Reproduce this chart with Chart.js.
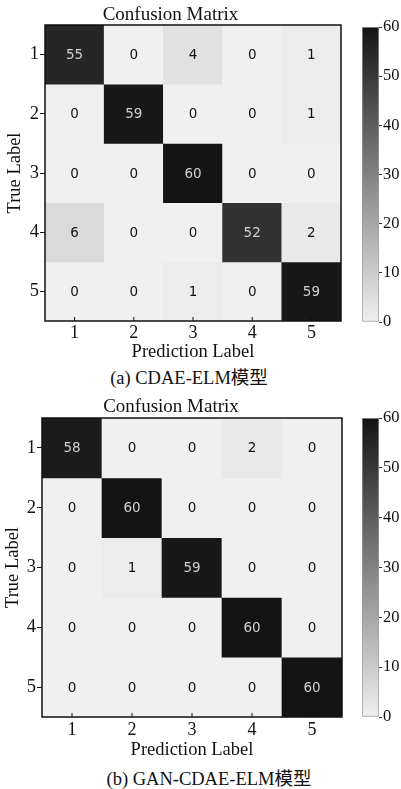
<!DOCTYPE html>
<html>
<head>
<meta charset="utf-8">
<script src="https://cdn.jsdelivr.net/npm/chart.js@4.4.0/dist/chart.umd.min.js"></script>
<style>
  body { margin: 0; background: #fff; width: 401px; height: 789px; position: relative; overflow: hidden; }
  canvas { position: absolute; }
  .cap { position: absolute; font: 18.5px "Liberation Serif", "Noto Sans CJK SC", serif; color: #111; text-align: center; white-space: nowrap; }
</style>
</head>
<body>
<canvas id="matA" width="342" height="363" style="left:0;top:0"></canvas>
<canvas id="barA" width="46" height="319" style="left:355px;top:15px"></canvas>
<div class="cap" style="left:0;width:378px;top:363px">(a) CDAE-ELM模型</div>

<canvas id="matB" width="343" height="371" style="left:0;top:390px"></canvas>
<canvas id="barB" width="46" height="323" style="left:355px;top:406px"></canvas>
<div class="cap" style="left:18px;width:382px;top:764px">(b) GAN-CDAE-ELM模型</div>

<script>
// class labels shared by both axes
const classLabels = ['1', '2', '3', '4', '5'];

// confusion matrix, CDAE-ELM (rows = true label, columns = predicted label)
const cdaeRow1 = [55, 0, 4, 0, 1];
const cdaeRow2 = [0, 59, 0, 0, 1];
const cdaeRow3 = [0, 0, 60, 0, 0];
const cdaeRow4 = [6, 0, 0, 52, 2];
const cdaeRow5 = [0, 0, 1, 0, 59];

// confusion matrix, GAN-CDAE-ELM
const ganRow1 = [58, 0, 0, 2, 0];
const ganRow2 = [0, 60, 0, 0, 0];
const ganRow3 = [0, 1, 59, 0, 0];
const ganRow4 = [0, 0, 0, 60, 0];
const ganRow5 = [0, 0, 0, 0, 60];

// colour scale
const colorMin = 0;
const colorMax = 60;
const colorbarTicks = [0, 10, 20, 30, 40, 50, 60];

const SERIF = '"Liberation Serif", "Times New Roman", serif';
const INK = '#111';

function grey(v) {
  const t = (v - colorMin) / (colorMax - colorMin);
  const c = Math.round(240 + (20 - 240) * t);
  return `rgb(${c},${c},${c})`;
}

// writes the count in every cell, frames the plot and adds inward x ticks
const cellText = {
  id: 'cellText',
  afterDatasetsDraw(chart) {
    const { ctx, chartArea: a } = chart;
    ctx.save();
    ctx.font = '13.5px "DejaVu Sans", sans-serif';
    ctx.textAlign = 'center';
    ctx.textBaseline = 'middle';
    chart.data.datasets.forEach((ds, di) => {
      chart.getDatasetMeta(di).data.forEach((bar, i) => {
        const v = ds.counts[i];
        const { x, y, base } = bar.getProps(['x', 'y', 'base'], true);
        ctx.fillStyle = v > colorMax / 2 ? '#d0d0d0' : INK;
        ctx.fillText(String(v), x, (y + base) / 2 + 1);
      });
    });
    ctx.strokeStyle = INK;
    ctx.lineWidth = 1;
    const xs = chart.scales.x;
    xs.ticks.forEach((t, i) => {
      const px = xs.getPixelForTick(i);
      ctx.beginPath();
      ctx.moveTo(px, a.bottom);
      ctx.lineTo(px, a.bottom - 4);
      ctx.stroke();
    });
    ctx.lineWidth = 1.5;
    ctx.strokeRect(a.left, a.top, a.width, a.height);
    ctx.restore();
  }
};

function matrixChart(id, rows, lay) {
  const datasets = rows.map((row, r) => ({
    label: classLabels[r],
    counts: row,
    // each true-label row occupies a unit band around its index on the y scale
    data: row.map(() => [r + 0.5, r + 1.5]),
    backgroundColor: row.map(grey),
    borderWidth: 0,
    grouped: false,
    barPercentage: 1,
    categoryPercentage: 1
  }));
  return new Chart(document.getElementById(id), {
    type: 'bar',
    data: { labels: classLabels, datasets },
    plugins: [cellText],
    options: {
      responsive: false,
      animation: false,
      layout: { padding: { left: 0, right: 1, top: 0, bottom: 0 } },
      plugins: {
        legend: { display: false },
        tooltip: { enabled: false },
        title: {
          display: true,
          text: 'Confusion Matrix',
          color: INK,
          font: { family: SERIF, size: 19, weight: 'normal', lineHeight: 1.2 },
          padding: { top: lay.titleTop, bottom: lay.titleBottom }
        }
      },
      scales: {
        x: {
          type: 'category',
          offset: true,
          grid: { display: false, drawTicks: false },
          border: { display: false },
          ticks: { color: INK, padding: lay.xTickPad, font: { family: SERIF, size: 18, lineHeight: 1.2 } },
          title: {
            display: true, text: 'Prediction Label', color: INK,
            font: { family: SERIF, size: 18.5, lineHeight: 1.2 },
            padding: { top: 0, bottom: lay.xTitleBottom }
          },
          afterFit: s => { s.height = lay.xHeight; }
        },
        y: {
          type: 'linear',
          min: 0.5,
          max: classLabels.length + 0.5,
          reverse: true,
          afterBuildTicks: s => { s.ticks = classLabels.map((l, i) => ({ value: i + 1 })); },
          grid: { display: true, drawOnChartArea: false, drawTicks: true, tickLength: 5, color: INK },
          border: { display: false },
          ticks: {
            color: INK, padding: 1,
            font: { family: SERIF, size: 18.5, lineHeight: 1.2 },
            callback: (v) => classLabels[v - 1]
          },
          title: {
            display: true, text: 'True Label', color: INK,
            font: { family: SERIF, size: 18.5, lineHeight: 1.2 },
            padding: { top: lay.yTitleLeft, bottom: 0 }
          },
          afterFit: s => { s.width = lay.yWidth; }
        }
      }
    }
  });
}

function colorbarChart(id) {
  return new Chart(document.getElementById(id), {
    type: 'bar',
    data: {
      labels: [''],
      datasets: [{
        data: [[colorMin, colorMax]],
        backgroundColor: (c) => {
          const a = c.chart.chartArea;
          if (!a) return grey(colorMin);
          const g = c.chart.ctx.createLinearGradient(0, a.bottom, 0, a.top);
          g.addColorStop(0, grey(colorMin));
          g.addColorStop(1, grey(colorMax));
          return g;
        },
        borderColor: '#9a9a9a',
        borderWidth: 1,
        borderSkipped: false,
        barPercentage: 1,
        categoryPercentage: 1
      }]
    },
    options: {
      responsive: false,
      animation: false,
      layout: { padding: { left: 7, right: 0, top: 12, bottom: 12 } },
      plugins: { legend: { display: false }, tooltip: { enabled: false } },
      scales: {
        x: { display: false },
        y: {
          position: 'right',
          min: colorMin,
          max: colorMax,
          afterBuildTicks: s => { s.ticks = colorbarTicks.map(v => ({ value: v })); },
          grid: { display: true, drawOnChartArea: false, drawTicks: true, tickLength: 3, color: '#333' },
          border: { display: false },
          ticks: { color: INK, padding: 1, font: { family: SERIF, size: 16.5, lineHeight: 1.2 } },
          afterFit: s => { s.width = 22; }
        }
      }
    }
  });
}

matrixChart('matA', [cdaeRow1, cdaeRow2, cdaeRow3, cdaeRow4, cdaeRow5], {
  titleTop: 3.5, titleBottom: -1.3, xHeight: 42, xTickPad: 1, xTitleBottom: 0, yWidth: 45, yTitleLeft: 4
});
colorbarChart('barA');

matrixChart('matB', [ganRow1, ganRow2, ganRow3, ganRow4, ganRow5], {
  titleTop: 5.6, titleBottom: -0.4, xHeight: 44, xTickPad: 2, xTitleBottom: 0, yWidth: 42, yTitleLeft: 2
});
colorbarChart('barB');
</script>
</body>
</html>
